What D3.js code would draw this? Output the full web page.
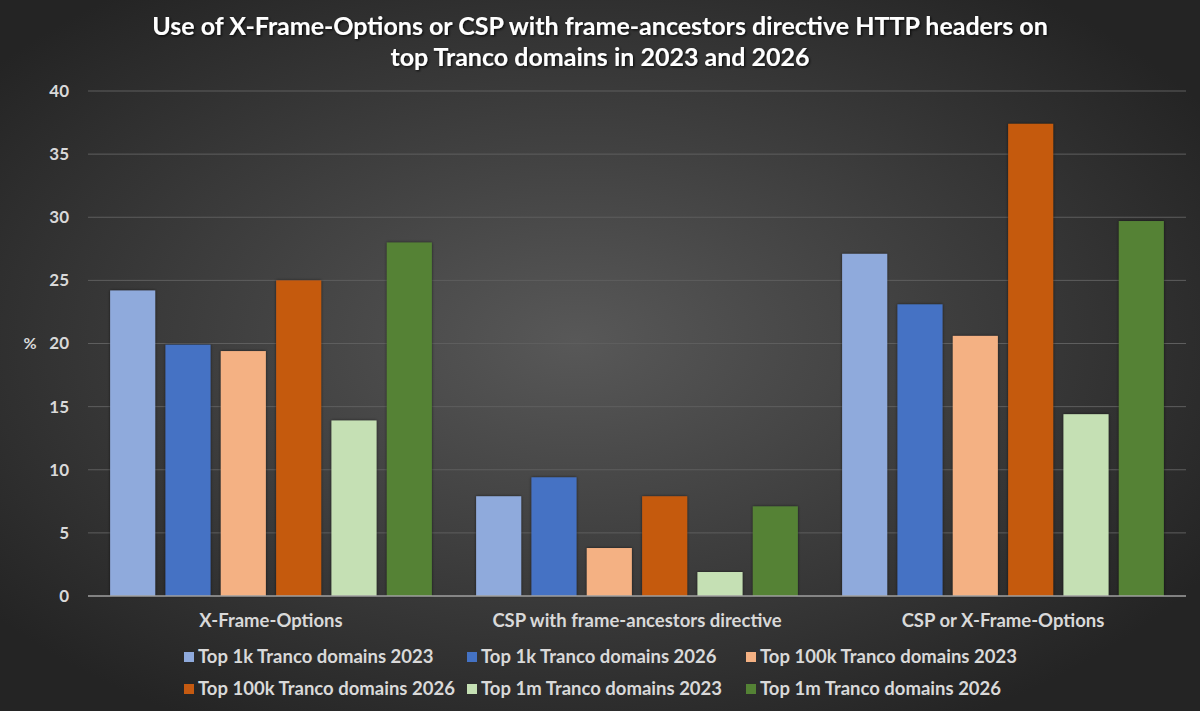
<!DOCTYPE html>
<html>
<head>
<meta charset="utf-8">
<script src="https://cdn.jsdelivr.net/npm/d3@7"></script>
<style>
  html, body { margin: 0; padding: 0; background: #2b2b2b; }
  svg { display: block; font-family: Lato, "Open Sans", sans-serif; font-weight: bold; }
</style>
</head>
<body>
<svg id="chart" width="1200" height="711"></svg>
<script>
// categories along the x axis
const categories = ['X-Frame-Options', 'CSP with frame-ancestors directive', 'CSP or X-Frame-Options'];

// one series per Tranco list / year
const series = [
    'Top 1k Tranco domains 2023',
    'Top 1k Tranco domains 2026',
    'Top 100k Tranco domains 2023',
    'Top 100k Tranco domains 2026',
    'Top 1m Tranco domains 2023',
    'Top 1m Tranco domains 2026'
];

// values in %, one array per series, in category order
const top1k_2023 = [24.2, 7.9, 27.1];
const top1k_2026 = [19.9, 9.4, 23.1];
const top100k_2023 = [19.4, 3.8, 20.6];
const top100k_2026 = [25.0, 7.9, 37.4];
const top1m_2023 = [13.9, 1.9, 14.4];
const top1m_2026 = [28.0, 7.1, 29.7];

const yTicks = [0, 5, 10, 15, 20, 25, 30, 35, 40];

const colors = ['#8faadc', '#4472c4', '#f4b183', '#c55a11', '#c5e0b4', '#548235'];

const values = [top1k_2023, top1k_2026, top100k_2023, top100k_2026, top1m_2023, top1m_2026];

const width = 1200, height = 711;
const margin = {top: 91, right: 14, bottom: 115, left: 88};

const svg = d3.select('#chart');
const defs = svg.append('defs');

// background: dark radial glow like the Office dark style
const bg = defs.append('radialGradient')
    .attr('id', 'bg')
    .attr('cx', '48%').attr('cy', '48%').attr('r', '62%');
bg.append('stop').attr('offset', '0%').attr('stop-color', '#585858');
bg.append('stop').attr('offset', '100%').attr('stop-color', '#242424');

const shadow = defs.append('filter').attr('id', 'shadow')
    .attr('x', '-10%').attr('y', '-10%').attr('width', '130%').attr('height', '130%');
shadow.append('feDropShadow')
    .attr('dx', 1.2).attr('dy', 1.2).attr('stdDeviation', 1)
    .attr('flood-color', '#000').attr('flood-opacity', 0.75);

const barShadow = defs.append('filter').attr('id', 'barShadow')
    .attr('x', '-20%').attr('y', '-5%').attr('width', '140%').attr('height', '110%');
barShadow.append('feDropShadow')
    .attr('dx', 0).attr('dy', 0).attr('stdDeviation', 1.5)
    .attr('flood-color', '#000').attr('flood-opacity', 0.6);

svg.append('rect')
    .attr('width', width).attr('height', height)
    .attr('fill', 'url(#bg)');

// title
svg.append('g')
    .attr('filter', 'url(#shadow)')
    .selectAll('text')
    .data(['Use of X-Frame-Options or CSP with frame-ancestors directive HTTP headers on',
           'top Tranco domains in 2023 and 2026'])
    .enter()
    .append('text')
    .attr('x', 600)
    .attr('y', function(d, i) { return 35 + i * 31; })
    .attr('text-anchor', 'middle')
    .attr('fill', '#ffffff')
    .attr('font-size', 25)
    .text(function(d) { return d; });

const x0 = d3.scaleBand()
    .domain(categories)
    .range([margin.left, width - margin.right]);

const x1 = d3.scaleBand()
    .domain(series)
    .range([0, x0.bandwidth()])
    .paddingInner(0.186)
    .paddingOuter(0.4);

const y = d3.scaleLinear()
    .domain([0, 40])
    .range([height - margin.bottom, margin.top]);

// gridlines
svg.append('g')
    .selectAll('line')
    .data(yTicks.slice(1))
    .enter()
    .append('line')
    .attr('x1', margin.left)
    .attr('x2', width - margin.right)
    .attr('y1', function(d) { return y(d); })
    .attr('y2', function(d) { return y(d); })
    .attr('stroke', '#5e5e5e')
    .attr('stroke-width', 1);

// y axis labels
const yAxis = d3.axisLeft(y).tickValues(yTicks).tickSize(0).tickPadding(19);
const yg = svg.append('g')
    .attr('transform', 'translate(' + margin.left + ',0)')
    .call(yAxis);
yg.select('.domain').remove();
yg.selectAll('text')
    .attr('fill', '#d9d9d9')
    .attr('font-size', 17)
    .attr('font-family', 'Lato, sans-serif')
    .attr('font-weight', 'bold');

svg.append('text')
    .attr('x', 30)
    .attr('y', y(20))
    .attr('dy', '0.35em')
    .attr('text-anchor', 'middle')
    .attr('fill', '#d9d9d9')
    .attr('font-size', 16)
    .text('%');

// bars
const groups = svg.append('g')
    .selectAll('g')
    .data(categories)
    .enter()
    .append('g')
    .attr('transform', function(d) { return 'translate(' + x0(d) + ',0)'; });

groups.selectAll('rect')
    .data(function(d, ci) {
        return series.map(function(s, si) { return {s: s, v: values[si][ci], c: colors[si]}; });
    })
    .enter()
    .append('rect')
    .attr('x', function(d) { return x1(d.s); })
    .attr('y', function(d) { return y(d.v); })
    .attr('width', x1.bandwidth())
    .attr('height', function(d) { return y(0) - y(d.v); })
    .attr('fill', function(d) { return d.c; })
    .attr('filter', 'url(#barShadow)');

// x axis
const xAxis = d3.axisBottom(x0).tickSize(0).tickPadding(18);
const xg = svg.append('g')
    .attr('transform', 'translate(0,' + y(0) + ')')
    .call(xAxis);
xg.select('.domain')
    .attr('d', 'M' + margin.left + ',0H' + (width - margin.right))
    .attr('stroke', '#a0a0a0')
    .attr('stroke-width', 1.5);
xg.selectAll('text')
    .attr('fill', '#d9d9d9')
    .attr('font-size', 18.5)
    .attr('font-family', 'Lato, sans-serif')
    .attr('font-weight', 'bold');

// legend, 3 columns x 2 rows
const legendCols = [184, 467, 746];
const legendRows = [657, 689];

const legend = svg.append('g')
    .selectAll('g')
    .data(series)
    .enter()
    .append('g')
    .attr('transform', function(d, i) {
        return 'translate(' + legendCols[i % 3] + ',' + legendRows[Math.floor(i / 3)] + ')';
    });

legend.append('rect')
    .attr('x', 0).attr('y', -5)
    .attr('width', 10).attr('height', 10)
    .attr('fill', function(d, i) { return colors[i]; });

legend.append('text')
    .attr('x', 14)
    .attr('dy', '0.35em')
    .attr('fill', '#d9d9d9')
    .attr('font-size', 18.5)
    .text(function(d) { return d; });
</script>
</body>
</html>
